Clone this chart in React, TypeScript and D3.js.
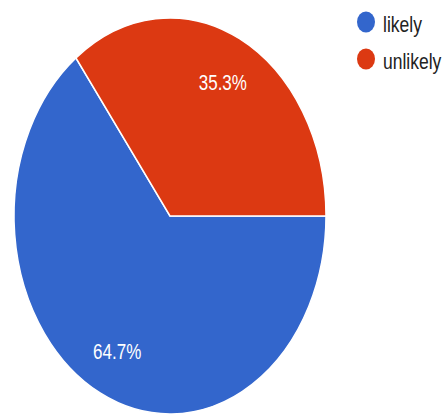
import React from "react";
import * as d3 from "d3";

const categories = ["likely", "unlikely"];
const values = [64.7, 35.3];
const labels = ["64.7%", "35.3%"];
const colors = ["#3366cc", "#dc3912"];

const W = 446;
const H = 417;
const cx = 170;
const cy = 216;
const rx = 156;
const ry = 198;

export default function App() {
  const pie = d3
    .pie<number>()
    .sort(null)
    .startAngle(Math.PI / 2)
    .endAngle(Math.PI / 2 + 2 * Math.PI)(values);
  const arc = d3.arc<d3.PieArcDatum<number>>().innerRadius(0).outerRadius(1);
  const labelArc = d3
    .arc<d3.PieArcDatum<number>>()
    .innerRadius(0.76)
    .outerRadius(0.76);

  return (
    <svg
      width={W}
      height={H}
      style={{ position: "absolute", left: 0, top: 0, background: "#fff" }}
      fontFamily="Arial, 'Liberation Sans', sans-serif"
    >
      <g transform={`translate(${cx},${cy}) scale(${rx},${ry})`}>
        {pie.map((d, i) => (
          <path
            key={i}
            d={arc(d) || ""}
            fill={colors[i]}
            stroke="#fff"
            strokeWidth={1.5}
            vectorEffect="non-scaling-stroke"
          />
        ))}
      </g>
      {pie.map((d, i) => {
        const [lx, ly] = labelArc.centroid(d);
        const x = cx + lx * rx;
        const y = cy + ly * ry;
        return (
          <text
            key={i}
            transform={`translate(${x},${y}) scale(1,1.35)`}
            textAnchor="middle"
            dy="0.36em"
            fontSize={17}
            fill="#fff"
          >
            {labels[i]}
          </text>
        );
      })}
      {categories.map((c, i) => {
        const y = 22 + i * 37;
        return (
          <g key={c}>
            <ellipse cx={366} cy={y} rx={9} ry={10.5} fill={colors[i]} />
            <text
              transform={`translate(383,${y + 9.5}) scale(1,1.3)`}
              fontSize={17.5}
              fill="#222"
            >
              {c}
            </text>
          </g>
        );
      })}
    </svg>
  );
}
